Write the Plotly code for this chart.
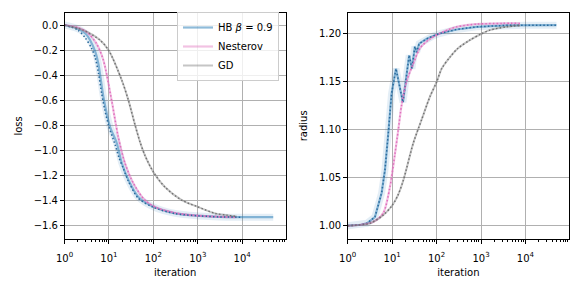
import plotly.graph_objects as go

# ---------------- data ----------------
hb_loss_x = [1, 2, 3, 3.75, 5, 5.8, 7.5, 10.6, 15, 19.5, 27.5, 46, 100, 310, 1100, 3000, 10000, 50000]
hb_loss_y = [0.0, -0.03, -0.07, -0.12, -0.22, -0.31, -0.57, -0.81, -0.94, -1.10, -1.235, -1.37, -1.448, -1.50, -1.52, -1.528, -1.53, -1.53]
hb_loss_th_x = [1, 2, 2.9, 4, 4.9, 5.8, 6.9, 8, 10, 13.7, 17, 21, 27.5, 46, 100, 310, 1100, 3000, 10000]
hb_loss_th_y = [0.0, -0.04, -0.1, -0.18, -0.26, -0.38, -0.55, -0.67, -0.81, -0.95, -1.06, -1.14, -1.245, -1.38, -1.452, -1.502, -1.52, -1.528, -1.53]

nes_loss_x = [1, 2, 3, 3.75, 5.3, 7.5, 11.5, 16.2, 23, 35.5, 65, 129, 300, 560, 1500, 4000, 7500]
nes_loss_y = [0.0, -0.02, -0.05, -0.08, -0.15, -0.28, -0.6, -0.89, -1.10, -1.26, -1.395, -1.46, -1.495, -1.51, -1.522, -1.528, -1.53]

gd_loss_x = [1, 2.6, 6.3, 10, 19.5, 27.5, 39, 50, 65, 100, 182, 437, 1000, 2450, 4470, 7500]
gd_loss_y = [0.0, -0.04, -0.12, -0.205, -0.44, -0.6, -0.80, -0.93, -1.04, -1.17, -1.29, -1.395, -1.448, -1.50, -1.514, -1.525]

hb_rad_x = [1, 2, 2.7, 4.1, 5.8, 6.9, 8.2, 9.7, 12.2, 17.5, 24.2, 27.9, 32.5, 35.5, 40.6, 60, 84, 118, 282, 800, 3700, 10000, 50000]
hb_rad_y = [1.0, 1.001, 1.0025, 1.009, 1.034, 1.058, 1.096, 1.137, 1.163, 1.128, 1.177, 1.163, 1.186, 1.180, 1.189, 1.194, 1.197, 1.1995, 1.2037, 1.2064, 1.208, 1.2082, 1.2082]

nes_rad_x = [1, 2, 3.76, 6.3, 8.9, 11.6, 13.7, 16.3, 21.2, 29.8, 42, 71, 118, 282, 800, 3000, 7500]
nes_rad_y = [1.0, 1.001, 1.004, 1.013, 1.040, 1.075, 1.099, 1.125, 1.150, 1.168, 1.184, 1.194, 1.1996, 1.2064, 1.2092, 1.2100, 1.2100]

gd_rad_x = [1, 3.16, 6.3, 10, 13.3, 17.8, 29.8, 46, 71, 100, 130, 200, 300, 560, 1000, 1580, 3700, 7500]
gd_rad_y = [1.0, 1.0025, 1.011, 1.021, 1.031, 1.047, 1.0855, 1.11, 1.134, 1.149, 1.163, 1.175, 1.184, 1.1926, 1.199, 1.203, 1.2064, 1.2078]

x_tickvals = [1, 10, 100, 1000, 10000]
x_ticktext = ["10<sup>0</sup>", "10<sup>1</sup>", "10<sup>2</sup>", "10<sup>3</sup>", "10<sup>4</sup>"]
loss_tickvals = [0.0, -0.2, -0.4, -0.6, -0.8, -1.0, -1.2, -1.4, -1.6]
loss_ticktext = ["0.0", "\u22120.2", "\u22120.4", "\u22120.6", "\u22120.8", "\u22121.0", "\u22121.2", "\u22121.4", "\u22121.6"]
rad_tickvals = [1.00, 1.05, 1.10, 1.15, 1.20]
rad_ticktext = ["1.00", "1.05", "1.10", "1.15", "1.20"]
legend_names = ["HB <i>β</i> = 0.9", "Nesterov", "GD"]

# ---------------- styles ----------------
BLUE_L = "rgba(31,119,180,0.5)"
PINK_L = "rgba(227,119,194,0.45)"
GRAY_L = "rgba(127,127,127,0.45)"
FONT = "DejaVu Sans"
DOT = "1.5px,2.2px"

fig = go.Figure()

def add(x, y, color, width, dash, xa, ya, name=None, show=False, shape="spline"):
    line = dict(color=color, width=width, dash=dash, shape=shape)
    if shape == "spline":
        line["smoothing"] = 0.8
    fig.add_trace(go.Scatter(x=x, y=y, mode="lines", name=name, showlegend=show,
                             line=line, xaxis=xa, yaxis=ya, hoverinfo="skip"))

for xa, ya, hx, hy, thx, thy, nx, ny, gx, gy, leg, hshape in [
    ("x", "y", hb_loss_x, hb_loss_y, hb_loss_th_x, hb_loss_th_y, nes_loss_x, nes_loss_y, gd_loss_x, gd_loss_y, True, "spline"),
    ("x2", "y2", hb_rad_x, hb_rad_y, hb_rad_x, hb_rad_y, nes_rad_x, nes_rad_y, gd_rad_x, gd_rad_y, False, "linear"),
]:
    add(hx, hy, "rgba(31,119,180,0.12)", 7, "solid", xa, ya, shape=hshape)
    add(hx, hy, BLUE_L, 2.2, "solid", xa, ya, legend_names[0], leg, shape=hshape)
    add(nx, ny, PINK_L, 2.2, "solid", xa, ya, legend_names[1], leg)
    add(gx, gy, GRAY_L, 2.0, "solid", xa, ya, legend_names[2], leg)
    add(thx, thy, "#2b6a9c", 1.5, DOT, xa, ya, shape=hshape)
    add(nx, ny, "#e06fbd", 1.5, DOT, xa, ya)
    add(gx, gy, "#707070", 1.4, DOT, xa, ya)

W, H = 581, 291
def fx(p):
    return p / W
def fy(p):
    return 1 - p / H

minor_vals = [k * 10 ** d for d in range(0, 5) for k in range(2, 10)]

axis_common = dict(showline=True, linecolor="black", linewidth=1, mirror=True,
                   showgrid=True, gridcolor="#b0b0b0", gridwidth=0.8,
                   ticks="outside", ticklen=3.5, tickwidth=0.8, tickcolor="black",
                   tickfont=dict(family=FONT, size=10, color="black"),
                   zeroline=False, automargin=False)

xcommon = dict(axis_common, type="log", range=[0, 4.98], tickmode="array",
               tickvals=x_tickvals, ticktext=x_ticktext, ticklabelstandoff=6,
               minor=dict(tickmode="array", tickvals=minor_vals, ticks="outside", ticklen=2,
                          tickwidth=0.6, tickcolor="black", showgrid=False),
               title=dict(text="iteration", font=dict(family=FONT, size=10, color="black"), standoff=6))

fig.update_layout(
    width=W, height=H, margin=dict(l=0, r=0, t=0, b=0),
    paper_bgcolor="white", plot_bgcolor="white",
    font=dict(family=FONT, size=10, color="black"),
    xaxis=dict(xcommon, domain=[fx(64.5), fx(285.7)], anchor="y"),
    xaxis2=dict(xcommon, domain=[fx(347.7), fx(569)], anchor="y2"),
    yaxis=dict(axis_common, domain=[fy(239), fy(12.7)], anchor="x", range=[-1.704, 0.098],
               tickmode="array", tickvals=loss_tickvals, ticktext=loss_ticktext,
               title=dict(text="loss", font=dict(family=FONT, size=10, color="black"), standoff=9)),
    yaxis2=dict(axis_common, domain=[fy(239), fy(12.7)], anchor="x2", range=[0.9862, 1.2211],
                tickmode="array", tickvals=rad_tickvals, ticktext=rad_ticktext,
                title=dict(text="radius", font=dict(family=FONT, size=10, color="black"), standoff=9)),
    legend=dict(x=fx(279), y=fy(12), xanchor="right", yanchor="top",
                bgcolor="rgba(255,255,255,0.8)", bordercolor="#cccccc", borderwidth=1,
                font=dict(family=FONT, size=10, color="black"), tracegroupgap=0,
                itemwidth=30),
)

fig.write_html("out.html", config={"displayModeBar": False},
               post_script="document.body.style.margin='0';")
